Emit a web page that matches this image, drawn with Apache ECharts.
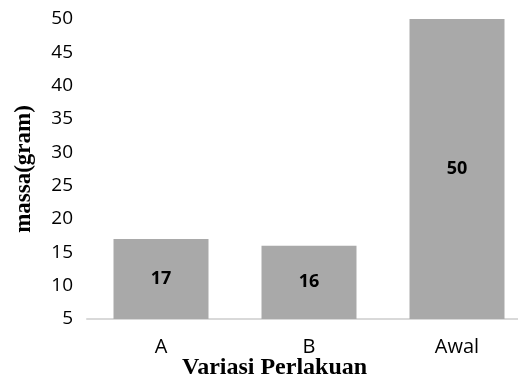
<!DOCTYPE html>
<html>
<head>
<meta charset="utf-8">
<script src="https://cdn.jsdelivr.net/npm/echarts@6/dist/echarts.min.js"></script>
<style>
html, body { margin: 0; padding: 0; background: #fff; overflow: hidden; }
/* the chart is wider than the window so the plot area runs past the right edge */
#chart { width: 540px; height: 385px; }
</style>
</head>
<body>
<div id="chart"></div>
<script>
// Mass per treatment variant
const categories = ['A', 'B', 'Awal'];
const massValues = [17, 16, 50];
const yTicks = { min: 5, max: 50, step: 5 };

const chart = echarts.init(document.getElementById('chart'), null, { renderer: 'canvas' });

chart.setOption({
  animation: false,
  backgroundColor: '#ffffff',
  grid: { left: 87, right: 9, top: 19, bottom: 66, containLabel: false },
  xAxis: {
    type: 'category',
    data: categories,
    axisLine: { lineStyle: { color: '#d9d9d9', width: 2 } },
    axisTick: { show: false },
    axisLabel: { fontFamily: 'Open Sans', fontSize: 20, color: '#000', margin: 18 }
  },
  yAxis: {
    type: 'value',
    min: yTicks.min,
    max: yTicks.max,
    interval: yTicks.step,
    axisLine: { show: false },
    axisTick: { show: false },
    splitLine: { show: false },
    axisLabel: { fontFamily: 'Open Sans', fontSize: 19, color: '#000', margin: 14 },
    name: 'massa(gram)',
    nameLocation: 'middle',
    nameGap: 51,
    nameTextStyle: { fontFamily: 'Liberation Serif', fontWeight: 'bold', fontSize: 23, color: '#000' }
  },
  graphic: [{
    type: 'text',
    left: 182,
    top: 356,
    style: {
      text: 'Variasi Perlakuan',
      font: 'bold 24px "Liberation Serif"',
      fill: '#000'
    }
  }],
  series: [{
    type: 'bar',
    data: massValues,
    barWidth: 95,
    itemStyle: { color: '#a9a9a9' },
    label: {
      show: true,
      position: 'inside',
      fontFamily: 'Open Sans',
      fontWeight: 'bold',
      fontSize: 18,
      color: '#000'
    }
  }]
});
</script>
</body>
</html>
